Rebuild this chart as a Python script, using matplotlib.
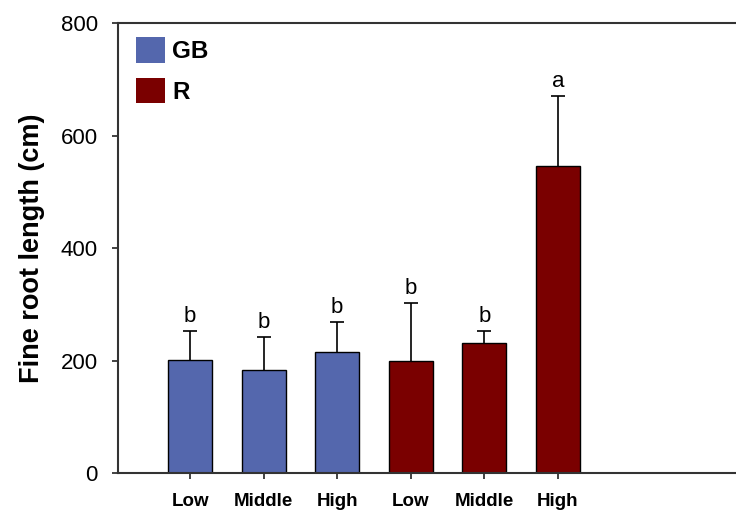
import matplotlib
matplotlib.use("Agg")
import matplotlib.pyplot as plt
from matplotlib.patches import Patch

plt.rcParams['font.family'] = ['Liberation Sans', 'DejaVu Sans']

categories = ["Low", "Middle", "High", "Low", "Middle", "High"]
groups = ["GB", "GB", "GB", "R", "R", "R"]
values = [201, 183, 216, 199, 232, 546]
errors = [51, 59, 53, 104, 20, 125]
letters = ["b", "b", "b", "b", "b", "a"]
colors = {"GB": "#5467AD", "R": "#7A0000"}

fig = plt.figure(figsize=(7.36, 5.11), dpi=100)
ax = fig.add_axes([118/736, 1-473/511, 1-118/736, (473-23)/511])

x = list(range(len(values)))
bar_colors = [colors[g] for g in groups]
ax.bar(x, values, width=0.6, color=bar_colors, edgecolor="black", linewidth=1.0, zorder=2)
eb = ax.errorbar(x, values, yerr=[[0]*len(errors), errors], fmt="none", ecolor="black",
                 elinewidth=1.2, capsize=4.7, capthick=1.2, zorder=1)
eb[1][0].set_visible(False)
for xi, v, e, l in zip(x, values, errors, letters):
    ax.annotate(l, (xi, v + e), xytext=(0, 6.5), textcoords="offset points",
                ha="center", va="baseline", fontsize=16)

ax.set_xlim(-0.98, 7.42)
ax.set_ylim(0, 800)
ax.set_yticks([0, 200, 400, 600, 800])
ax.set_xticks(x)
ax.set_xticklabels(categories, fontweight="bold", fontsize=13.5)
ax.tick_params(axis="y", direction="out", length=4.5, width=1.2, pad=10, labelsize=16, colors="#222222")
ax.tick_params(axis="x", direction="out", length=4.5, width=1.2, pad=10, colors="#222222")
for lab in ax.get_xticklabels():
    lab.set_color("black")
for lab in ax.get_yticklabels():
    lab.set_color("black")

ax.spines["right"].set_visible(False)
for s in ["left", "bottom", "top"]:
    ax.spines[s].set_linewidth(1.5)
    ax.spines[s].set_color("#333333")

ax.set_ylabel("Fine root length (cm)", fontsize=19.5, fontweight="bold")
ax.yaxis.set_label_coords((45 - 118) / 618, 0.5)

handles = [Patch(facecolor=colors["GB"], edgecolor="none", label="GB"),
           Patch(facecolor=colors["R"], edgecolor="none", label="R")]
ax.legend(handles=handles, loc="upper left", bbox_to_anchor=((136-118)/618, 1 - (37-23)/450),
          frameon=False, borderpad=0, borderaxespad=0, handlelength=1.2, handleheight=1.25,
          handletextpad=0.3, labelspacing=0.6, prop={"weight": "bold", "size": 17.5})

fig.savefig("out.png", dpi=100)
